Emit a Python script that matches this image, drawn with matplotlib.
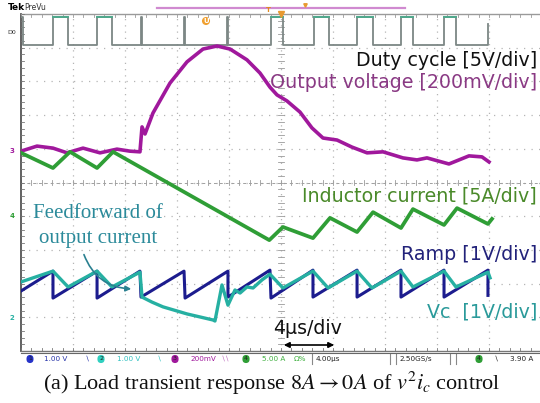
import matplotlib
matplotlib.use('Agg')
import matplotlib.pyplot as plt
import numpy as np

# ---------------- data (time in us, amplitude in screen divisions) ----------------
duty_rise = [2.46, 5.85, 9.23, 12.54, 15.85, 19.23, 22.54, 25.85, 29.23, 32.54]
duty_fall = [3.62, 7.00, 9.30, 12.61, 15.92, 20.15, 23.69, 27.08, 30.15, 33.46]
duty_start_fall = 0.15
duty_end = 35.95
duty_low, duty_high = 9.08, 9.91

vout_t = [0, 1.23, 2.46, 3.54, 4.77, 6.08, 7.38, 8.38, 9.15, 9.31, 9.54, 10.15, 11.46,
          12.77, 14.0, 15.08, 16.08, 17.38, 18.38, 19.15, 19.69, 20.46, 21.46, 22.38,
          23.23, 24.31, 25.46, 26.62, 27.85, 29.38, 30.46, 31.23, 32.92, 34.46, 35.46, 36.0]
vout_v = [5.93, 6.08, 6.02, 5.88, 6.02, 5.88, 5.99, 5.93, 5.91, 6.65, 6.44, 7.06, 7.95,
          8.58, 8.96, 9.05, 8.96, 8.64, 8.25, 7.83, 7.60, 7.42, 7.09, 6.62,
          6.32, 6.26, 6.05, 5.88, 5.91, 5.73, 5.67, 5.73, 5.55, 5.79, 5.76, 5.61]

il_t = [0, 2.46, 3.77, 5.85, 7.08, 19.1, 20.15, 22.46, 23.77, 25.85, 27.08, 29.23,
        30.15, 32.54, 33.54, 35.92, 36.23]
il_v = [5.88, 5.43, 5.91, 5.43, 5.91, 3.29, 3.68, 3.35, 3.95, 3.53, 4.12, 3.65,
        4.21, 3.74, 4.24, 3.77, 3.92]

ramp_t = [0, 2.46, 2.46, 5.85, 5.85, 9.15, 9.23, 12.54, 12.62, 15.92, 15.92, 19.15,
          19.23, 22.46, 22.46, 25.85, 25.85, 29.23, 29.23, 32.54, 32.54, 35.92, 35.92]
ramp_v = [1.78, 2.37, 1.57, 2.37, 1.57, 2.37, 1.60, 2.37, 1.57, 2.37, 1.60, 2.40,
          1.57, 2.40, 1.60, 2.40, 1.60, 2.40, 1.60, 2.40, 1.60, 2.40, 1.65]

vc_t = [0, 2.46, 3.62, 5.85, 7.0, 9.15, 9.31, 10.08, 10.92, 12.77, 14.77, 14.92, 15.46,
        15.92, 16.46, 16.85, 17.38, 17.85, 18.54, 19.15, 20.15, 22.46, 23.62, 25.85,
        27.0, 29.23, 30.15, 32.54, 33.46, 35.92, 36.08]
vc_v = [2.05, 2.37, 1.90, 2.37, 1.90, 2.34, 1.60, 1.45, 1.31, 1.10, 0.92, 0.89, 1.96,
        1.36, 1.81, 1.72, 1.90, 1.87, 2.11, 2.28, 1.87, 2.37, 1.87, 2.37,
        1.87, 2.37, 1.90, 2.37, 1.90, 2.34, 2.17]

trace_labels = ["Duty cycle [5V/div]", "Output voltage [200mV/div]",
                "Inductor current [5A/div]", "Ramp [1V/div]", "Vc  [1V/div]"]
status_items = ["1.00 V", "1.00 V", "200mV", "5.00 A", "4.00\u00b5s", "2.50GS/s", "3.90 A"]
caption = r"(a) Load transient response $8A \rightarrow 0A$ of $v^2i_c$ control"

# ---------------- figure ----------------
plt.rcParams['mathtext.fontset'] = 'stix'
W, H = 540, 403
fig = plt.figure(figsize=(W / 100, H / 100), dpi=100)
ax = fig.add_axes([21 / W, 1 - 351 / H, 520 / W, 337 / H])
ax.set_xlim(0, 40)
ax.set_ylim(0, 10)
ax.axis('off')

gcol = '#b5b5b5'
for i in range(1, 10):
    ax.plot([4 * i, 4 * i], [0, 10], ls=(0, (1, 4)), color=gcol, lw=0.9)
for j in range(1, 10):
    ax.plot([0, 40], [j, j], ls=(0, (1, 5)), color=gcol, lw=0.9)
# center cross ticks
for y in np.arange(0, 10.01, 0.2):
    ax.plot([19.8, 20.2], [y, y], color='#9a9a9a', lw=0.6)
for x in np.arange(0, 40.01, 0.8):
    ax.plot([x, x], [4.94, 5.06], color='#9a9a9a', lw=0.6)
ax.plot([0, 40], [5, 5], ls=(0, (3, 3)), color='#a0a0a0', lw=0.7)
# frame
ax.plot([0, 0], [0, 10], color='#555555', lw=1.3, clip_on=False)
ax.plot([0, 40], [10, 10], color='#9a9a9a', lw=1.0, clip_on=False)
ax.plot([0, 40], [0, 0], color='#777777', lw=1.0, clip_on=False)
for y in np.arange(0, 10.01, 0.2):
    ax.plot([0, 0.25], [y, y], color='#777777', lw=0.6)
for x in np.arange(0, 40.01, 0.8):
    ax.plot([x, x], [0, 0.1], color='#777777', lw=0.6)
    ax.plot([x, x], [9.9, 10], color='#9a9a9a', lw=0.6)

# duty cycle trace
dt = [0, duty_start_fall, duty_start_fall]
dv = [duty_high, duty_high, duty_low]
for r, f in zip(duty_rise, duty_fall):
    dt += [r, r, f, f]
    dv += [duty_low, duty_high, duty_high, duty_low]
dt += [duty_end, duty_end]
dv += [duty_low, duty_high - 0.2]
ax.plot(dt, dv, color='#7c8785', lw=1.3, zorder=5)
for r, f in zip(duty_rise, duty_fall):
    if f - r > 0.2:
        ax.plot([r, f], [duty_high, duty_high], color='#4fa98c', lw=1.4, zorder=6)

ax.plot(vout_t, vout_v, color='#a0189c', lw=2.6, zorder=7, solid_joinstyle='round')
ax.plot(il_t, il_v, color='#2f9e36', lw=2.7, zorder=7, solid_joinstyle='round')
ax.plot(ramp_t, ramp_v, color='#1c1c8e', lw=2.2, zorder=7)
ax.plot(vc_t, vc_v, color='#26b0a2', lw=2.4, zorder=8, solid_joinstyle='round')

# ---------------- overlay in pixel coordinates ----------------
ov = fig.add_axes([0, 0, 1, 1])
ov.set_xlim(0, W)
ov.set_ylim(H, 0)
ov.axis('off')

ov.text(8, 8, "Tek", fontsize=6.5, fontweight='bold', va='center', ha='left')
ov.text(24, 8, "PreVu", fontsize=5.5, va='center', ha='left', color='#333333')
ov.plot([157, 405], [8, 8], color='#d08ad0', lw=1.6)
ov.text(268, 10, "T", fontsize=5, color='#e08a20', ha='center', va='center', fontweight='bold')
ov.plot([281], [14], marker='v', color='#e89a30', ms=4)
ov.plot([305], [5], marker='v', color='#e89a30', ms=2.5)
ov.text(206, 21, "U", fontsize=5, color='white', ha='center', va='center', fontweight='bold',
        bbox=dict(boxstyle='circle,pad=0.15', fc='#f0a030', ec='none'))

# channel markers on left
ov.text(12, 33, "D0", fontsize=4.5, ha='center', va='center', color='#333333')
ov.text(12, 151, "3", fontsize=5, ha='center', va='center', color='#a0189c', fontweight='bold')
ov.text(12, 216, "4", fontsize=5, ha='center', va='center', color='#2f9e36', fontweight='bold')
ov.text(12, 318, "2", fontsize=5, ha='center', va='center', color='#26b0a2', fontweight='bold')

lab_fs = 13.7
ov.text(537, 60, trace_labels[0], fontsize=lab_fs, ha='right', va='center', color='#111111')
ov.text(537, 82, trace_labels[1], fontsize=lab_fs, ha='right', va='center', color='#8a3a84')
ov.text(537, 196, trace_labels[2], fontsize=lab_fs, ha='right', va='center', color='#4a8a2a')
ov.text(537, 254, trace_labels[3], fontsize=lab_fs, ha='right', va='center', color='#22227a')
ov.text(537, 312, trace_labels[4], fontsize=lab_fs, ha='right', va='center', color='#2a9a9a')

ov.text(273, 328, "4\u00b5s/div", fontsize=lab_fs, ha='left', va='center', color='#111111')
ov.annotate("", xy=(337, 345), xytext=(281, 345),
            arrowprops=dict(arrowstyle='<|-|>', color='black', lw=1.2, mutation_scale=8))

ff_col = '#2b8a9a'
ov.text(98, 213, "Feedforward of", fontsize=15, family='Liberation Serif', ha='center',
        va='center', color=ff_col)
ov.text(98, 238, "output current", fontsize=15, family='Liberation Serif', ha='center',
        va='center', color=ff_col)
ov.annotate("", xy=(134, 289), xytext=(83, 252),
            arrowprops=dict(arrowstyle='-|>', color='#2a8090', lw=1.2, mutation_scale=8,
                            connectionstyle='arc3,rad=0.35'))

# status bar
sb_y = 359
sfs = 5.2
def chip(x, txt, col):
    ov.text(x, sb_y, txt, fontsize=4.5, ha='center', va='center', color='#222222',
            bbox=dict(boxstyle='round,pad=0.25,rounding_size=0.6', fc=col, ec='none'))
chip(30, "1", '#2633c8'); ov.text(44, sb_y, status_items[0], fontsize=sfs, color='#2633a8', va='center')
ov.text(85, sb_y, "\u2216", fontsize=sfs, color='#2633a8', va='center')
chip(101, "2", '#30d0c0'); ov.text(117, sb_y, status_items[1], fontsize=sfs, color='#30c0c0', va='center')
ov.text(157, sb_y, "\u2216", fontsize=sfs, color='#30c0c0', va='center')
chip(175, "3", '#a0189c'); ov.text(190, sb_y, status_items[2], fontsize=sfs, color='#a0189c', va='center')
ov.text(221, sb_y, "\u2216\u2216", fontsize=sfs, color='#c070c0', va='center')
chip(246, "4", '#2f9e36'); ov.text(262, sb_y, status_items[3], fontsize=sfs, color='#40b040', va='center')
ov.text(294, sb_y, "\u03a9%", fontsize=sfs, color='#40b040', va='center')
ov.plot([312, 312], [354, 364], color='#888888', lw=0.8)
ov.text(316, sb_y, status_items[4], fontsize=sfs, color='#222222', va='center')
ov.plot([390, 390], [354, 364], color='#888888', lw=0.8)
ov.plot([396, 396], [354, 364], color='#888888', lw=0.8)
ov.text(399, sb_y, status_items[5], fontsize=sfs, color='#222222', va='center')
ov.plot([450, 450], [354, 364], color='#888888', lw=0.8)
ov.plot([456, 456], [354, 364], color='#888888', lw=0.8)
chip(479, "4", '#2f9e36')
ov.text(494, sb_y, "\u2216", fontsize=sfs, color='#222222', va='center')
ov.text(510, sb_y, status_items[6], fontsize=sfs, color='#222222', va='center')
ov.plot([21, 540], [353, 353], color='#666666', lw=0.8)

ov.text(272, 383, caption, fontsize=16, family='Liberation Serif', ha='center', va='center',
        color='#111111')

fig.savefig('out.png', dpi=100)
